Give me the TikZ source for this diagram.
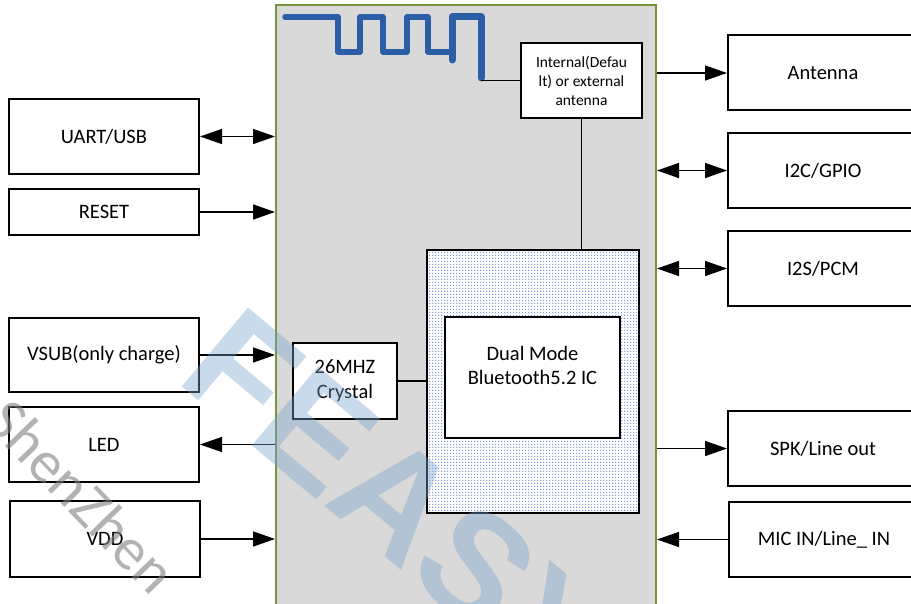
\documentclass[tikz,border=0pt]{standalone}
\usepackage{fontspec}
\setmainfont{Carlito}
\newfontfamily\markfont{Liberation Sans}
\usetikzlibrary{arrows.meta,patterns}
\definecolor{ModGray}{RGB}{217,217,217}
\definecolor{ModGreen}{RGB}{119,147,60}
\definecolor{TraceBlue}{RGB}{44,94,168}
\definecolor{MarkBlue}{RGB}{120,165,205}
\definecolor{DotBlue}{RGB}{125,150,210}

\pgfdeclarepatternformonly{chipdots}{\pgfpointorigin}{\pgfpoint{3pt}{3pt}}%
  {\pgfpoint{3pt}{3pt}}{\pgfpathrectangle{\pgfpointorigin}{\pgfpoint{1.5pt}{1.5pt}}%
  \pgfusepath{fill}}

\tikzset{
  port/.style={draw, line width=2pt, fill=white, minimum width=190pt,
    minimum height=75pt, font=\fontsize{20.5}{24}\selectfont},
  part/.style={draw, line width=2pt, fill=white, align=center,
    font=\fontsize{20.5}{25}\selectfont},
  wire/.style={line width=1.5pt, -{Triangle[length=22pt,width=15pt]}},
  bothway/.style={line width=1.5pt,
    {Triangle[length=22pt,width=15pt]}-{Triangle[length=22pt,width=15pt]}},
  link/.style={line width=1.5pt},
  trace/.style={TraceBlue, line cap=round, line join=round}
}

\begin{document}
\begin{tikzpicture}[x=1pt,y=-1pt]
\useasboundingbox (0,0) rectangle (911,604);
\clip (0,0) rectangle (911,604);
% module body
\node[draw=ModGreen, fill=ModGray, line width=2pt, minimum width=380pt,
  minimum height=640pt, anchor=north west] (module) at (275,4) {};
% printed antenna
\draw[trace, line width=5.5pt] (285,17) -- (338,17) -- (338,52) -- (360,52)
  -- (360,17) -- (383,17) -- (383,52) -- (407,52) -- (407,17) -- (428,17)
  -- (428,52) -- (452,52);
\draw[trace, line width=7pt] (452,60) -- (452,17) -- (481,17) -- (481,78);
\coordinate (feed) at (481,80.5);
\node[draw, line width=1.5pt, fill=white, minimum width=121pt, minimum height=75pt,
  align=center, font=\fontsize{15.5}{19}\selectfont] (sel) at (581.5,80.5)
  {Internal(Defau\\lt) or external\\antenna};
\draw[link] (feed) -- (sel.west);
% chip
\node[draw, line width=2pt, preaction={fill=white}, pattern=chipdots,
  pattern color=DotBlue, minimum width=212pt, minimum height=263pt] (bt) at (533,381.5) {};
\node[part, minimum width=175pt, minimum height=121pt] (ic) at (532.5,377.5) {};
\node[align=center, font=\fontsize{20.5}{24}\selectfont] (iclabel) at (532.5,365)
  {Dual Mode\\Bluetooth5.2 IC};
\node[part, minimum width=104pt, minimum height=76pt] (xtal) at (345,381) {26MHZ\\Crystal};
\draw[link] (xtal.east) -- (xtal.east -| bt.west);
\draw[link] (sel.south) -- (sel.south |- bt.north);
% left side
\node[port] (uart) at (104,136.5) {UART/USB};
\node[port, minimum height=46pt] (reset) at (104,212) {RESET};
\node[port, minimum height=74pt] (vsub) at (104,355) {VSUB(only charge)};
\node[port] (led) at (104,444.5) {LED};
\node[port, minimum height=76pt] (vdd) at (105,539) {VDD};
\draw[bothway] (uart.east) -- (uart.east -| module.west);
\draw[wire] (reset.east) -- (reset.east -| module.west);
\draw[wire] (vsub.east) -- (vsub.east -| module.west);
\draw[wire] (led.east -| module.west) -- (led.east);
\draw[wire] (vdd.east) -- (vdd.east -| module.west);
% right side
\node[port] (ant) at (823,73) {Antenna};
\node[port] (i2c) at (823,170.5) {I2C/GPIO};
\node[port] (i2s) at (823,268.5) {I2S/PCM};
\node[port] (spk) at (823,448.5) {SPK/Line out};
\node[port] (mic) at (824,539.5) {MIC IN/Line\_ IN};
\draw[wire] (ant.west -| module.east) -- (ant.west);
\draw[bothway] (i2c.west -| module.east) -- (i2c.west);
\draw[bothway] (i2s.west -| module.east) -- (i2s.west);
\draw[wire] (spk.west -| module.east) -- (spk.west);
\draw[wire] (mic.west) -- (mic.west -| module.east);
% watermark
\node[rotate=-40, anchor=base west, text=MarkBlue, opacity=0.4,
  font=\markfont\bfseries\fontsize{150}{150}\selectfont] (mark) at (172,378) {FEASY};
\node[rotate=-46, anchor=base west, text=gray, opacity=0.6,
  font=\fontsize{60}{60}\selectfont] (city) at (-19,421) {ShenZhen};
\end{tikzpicture}
\end{document}
